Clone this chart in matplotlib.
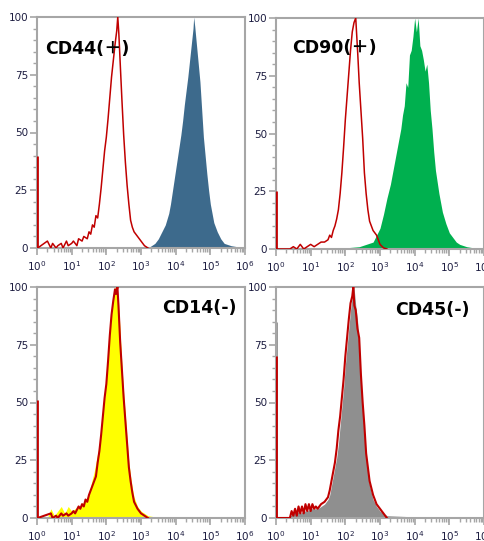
import numpy as np
import matplotlib
matplotlib.use("Agg")
import matplotlib.pyplot as plt
from matplotlib.ticker import LogLocator, NullFormatter, MultipleLocator

# ---------------- data (x in decades of log10 fluorescence, y = % of max) ----------------
titles = ["CD44(＋)", "CD90(＋)", "CD14(-)", "CD45(-)"]
fill_colors = ["#3d6a8c", "#00b04f", "#ffff00", "#8f8f8f"]

# CD44 isotype (red) and stained (blue)
cd44_iso_x = [0.02,0.30,0.40,0.45,0.55,0.60,0.70,0.75,0.85,0.90,1.00,1.05,1.15,1.20,1.30,1.35,1.45,1.50,1.55,1.60,1.65,1.70,1.75,1.80,1.85,1.90,1.95,2.00,2.05,2.10,2.15,2.20,2.25,2.30,2.33,2.36,2.40,2.45,2.50,2.55,2.60,2.65,2.70,2.75,2.80,2.90,3.00,3.10,3.20]
cd44_iso_y = [0,3,0,2,0,1,2,0,3,1,2,3,1,4,3,5,4,7,6,10,9,14,13,19,26,34,42,48,56,65,74,81,88,94,100,93,80,64,49,37,27,19,12,9,7,5,3,1,0]
cd44_iso_spike = 40
cd44_x = [3.20,3.30,3.40,3.50,3.60,3.70,3.80,3.85,3.90,3.95,4.00,4.05,4.10,4.15,4.20,4.25,4.30,4.35,4.40,4.45,4.50,4.52,4.55,4.60,4.65,4.70,4.75,4.80,4.85,4.90,4.95,5.00,5.05,5.10,5.20,5.30,5.40,5.50,5.60,5.80,6.00]
cd44_y = [0,1,2,4,7,10,15,19,24,29,34,39,44,49,55,62,68,74,81,88,95,100,96,88,80,72,60,48,40,32,25,19,15,11,7,4,2,1.5,1,0.5,0.5]

# CD90
cd90_iso_x = [0.02,0.40,0.50,0.60,0.70,0.80,0.90,1.00,1.10,1.20,1.30,1.40,1.50,1.55,1.60,1.65,1.70,1.75,1.80,1.85,1.90,1.95,2.00,2.05,2.10,2.15,2.20,2.25,2.30,2.33,2.36,2.40,2.45,2.50,2.55,2.60,2.65,2.70,2.75,2.80,2.90,3.00,3.10,3.20]
cd90_iso_y = [0,0,1,0,2,0,1,2,1,2,3,3,4,6,5,8,10,13,17,24,33,44,56,66,76,86,94,98,100,92,84,72,60,48,33,24,17,12,10,8,6,2,0.5,0]
cd90_iso_spike = 25
cd90_x = [1.50,2.00,2.40,2.60,2.80,2.90,3.00,3.10,3.20,3.30,3.40,3.50,3.55,3.60,3.65,3.70,3.75,3.80,3.85,3.90,3.95,4.00,4.05,4.10,4.15,4.20,4.25,4.30,4.35,4.40,4.45,4.50,4.55,4.60,4.65,4.70,4.80,4.90,5.00,5.10,5.20,5.30,5.50,5.70,6.00]
cd90_y = [0,0.5,1,2,3,6,9,15,22,28,36,44,48,52,58,62,72,70,84,86,92,100,94,100,88,86,82,77,80,72,60,52,42,34,29,24,16,11,7,5,3,2,1,0.5,0]

# CD14
cd14_iso_x = [0.02,0.40,0.45,0.55,0.60,0.70,0.75,0.85,0.90,1.00,1.05,1.10,1.20,1.25,1.30,1.35,1.40,1.45,1.50,1.55,1.60,1.65,1.70,1.75,1.80,1.85,1.90,1.95,2.00,2.05,2.10,2.15,2.20,2.25,2.28,2.32,2.35,2.40,2.45,2.50,2.55,2.60,2.65,2.70,2.75,2.80,2.90,3.00,3.10,3.20]
cd14_iso_y = [0,2,0,1,0,2,1,2,1,2,3,2,5,4,6,5,8,7,10,12,14,16,18,24,29,36,44,52,58,68,79,88,94,99,97,100,92,76,64,52,42,32,22,16,11,7,4,2,1,0]
cd14_iso_spike = 51
cd14_x = [0.30,0.40,0.50,0.60,0.70,0.80,0.90,1.00,1.10,1.20,1.30,1.40,1.50,1.55,1.60,1.65,1.70,1.75,1.80,1.85,1.90,1.95,2.00,2.05,2.10,2.15,2.20,2.25,2.30,2.35,2.40,2.45,2.50,2.55,2.60,2.65,2.70,2.75,2.80,2.90,3.00,3.10,3.20,3.40,4.00,5.00,6.00]
cd14_y = [0,4,1,3,5,2,5,3,4,5,6,8,10,14,17,20,24,28,32,38,46,52,60,70,80,88,95,100,99,94,80,66,54,44,34,24,18,13,9,5,3,2,1,0.5,0.5,0.5,0.5]

# CD45
cd45_iso_x = [0.02,0.40,0.45,0.50,0.55,0.60,0.65,0.70,0.75,0.80,0.85,0.90,0.95,1.00,1.05,1.10,1.15,1.20,1.30,1.40,1.50,1.55,1.60,1.65,1.70,1.75,1.80,1.85,1.90,1.95,2.00,2.05,2.10,2.15,2.20,2.23,2.26,2.30,2.35,2.40,2.45,2.50,2.55,2.60,2.65,2.70,2.80,2.90,3.00,3.10,3.20]
cd45_iso_y = [0,0,3,1,4,1,5,2,5,2,6,3,6,3,6,4,5,4,6,7,9,12,16,20,24,30,38,44,52,60,70,78,86,93,96,100,92,90,82,78,62,50,40,28,22,16,10,6,4,2,0]
cd45_iso_spike = 70
cd45_x = [0.40,0.50,0.60,0.70,0.80,0.90,1.00,1.10,1.20,1.30,1.40,1.50,1.55,1.60,1.65,1.70,1.75,1.80,1.85,1.90,1.95,2.00,2.05,2.10,2.15,2.20,2.25,2.30,2.35,2.40,2.45,2.50,2.55,2.60,2.65,2.70,2.80,2.90,3.00,3.20,4.00,5.00,6.00]
cd45_y = [1,2,3,2,3,3,4,4,4,5,6,8,10,14,18,22,26,32,40,48,56,66,74,82,90,96,100,92,86,74,58,46,36,26,20,14,8,5,3,1,0.5,0.5,0.5]
cd45_spike = 85

y_ticks = [0, 25, 50, 75, 100]

# ---------------- layout ----------------
W, H = 485, 541
fig = plt.figure(figsize=(W / 100, H / 100), dpi=100)
fig.patch.set_facecolor("white")

def rect(l, t, r, b):
    return [l / W, 1 - b / H, (r - l) / W, (b - t) / H]

rects = [rect(37, 17, 245, 248), rect(276, 18, 484, 249),
         rect(37, 287, 245, 518), rect(276, 287, 484, 518)]

panels = [
    (cd44_iso_x, cd44_iso_y, cd44_iso_spike, cd44_x, cd44_y, 0),
    (cd90_iso_x, cd90_iso_y, cd90_iso_spike, cd90_x, cd90_y, 0),
    (cd14_iso_x, cd14_iso_y, cd14_iso_spike, cd14_x, cd14_y, 0),
    (cd45_iso_x, cd45_iso_y, cd45_iso_spike, cd45_x, cd45_y, cd45_spike),
]
text_pos = [(0.04, 0.86, "left"), (0.077, 0.87, "left"),
            (0.96, 0.91, "right"), (0.93, 0.90, "right")]
red_lw = [1.1, 1.1, 1.5, 1.5]

red = "#c00000"
spine_c = "#a6a6a6"
lab_c = "#1c1c40"

for i, (ix, iy, ispk, fx, fy, fspk) in enumerate(panels):
    ax = fig.add_axes(rects[i])
    ax.set_xscale("log")
    ax.set_xlim(1, 1e6)
    ax.set_ylim(0, 100)
    fxv = 10 ** np.array(fx)
    ax.fill_between(fxv, 0, fy, color=fill_colors[i], lw=0, zorder=2)
    if fspk:
        ax.vlines(1.0, 0, fspk, color=fill_colors[i], lw=2.0, zorder=2)
    ax.plot(10 ** np.array(ix), iy, color=red, lw=red_lw[i], zorder=3)
    ax.vlines(1.0, 0, ispk, color=red, lw=2.0, zorder=3)

    for s in ax.spines.values():
        s.set_color(spine_c)
        s.set_linewidth(1.5)
    ax.set_yticks(y_ticks)
    ax.yaxis.set_minor_locator(MultipleLocator(5))
    ax.xaxis.set_major_locator(LogLocator(base=10, numticks=10))
    ax.xaxis.set_minor_locator(LogLocator(base=10, subs=np.arange(2, 10), numticks=20))
    ax.xaxis.set_minor_formatter(NullFormatter())
    ax.tick_params(which="major", length=5, width=1.2, color=spine_c,
                   labelsize=7.5, labelcolor=lab_c, pad=1.5)
    ax.tick_params(which="minor", length=3, width=1.0, color=spine_c)
    ax.tick_params(axis="x", which="major", pad=3)

    tx, ty, ha = text_pos[i]
    ax.text(tx, ty, titles[i], transform=ax.transAxes, ha=ha, va="center",
            fontsize=12.5, fontweight="bold", color="black",
            family=["DejaVu Sans", "Noto Sans CJK JP"], zorder=5)

fig.savefig("out.png", dpi=100)
